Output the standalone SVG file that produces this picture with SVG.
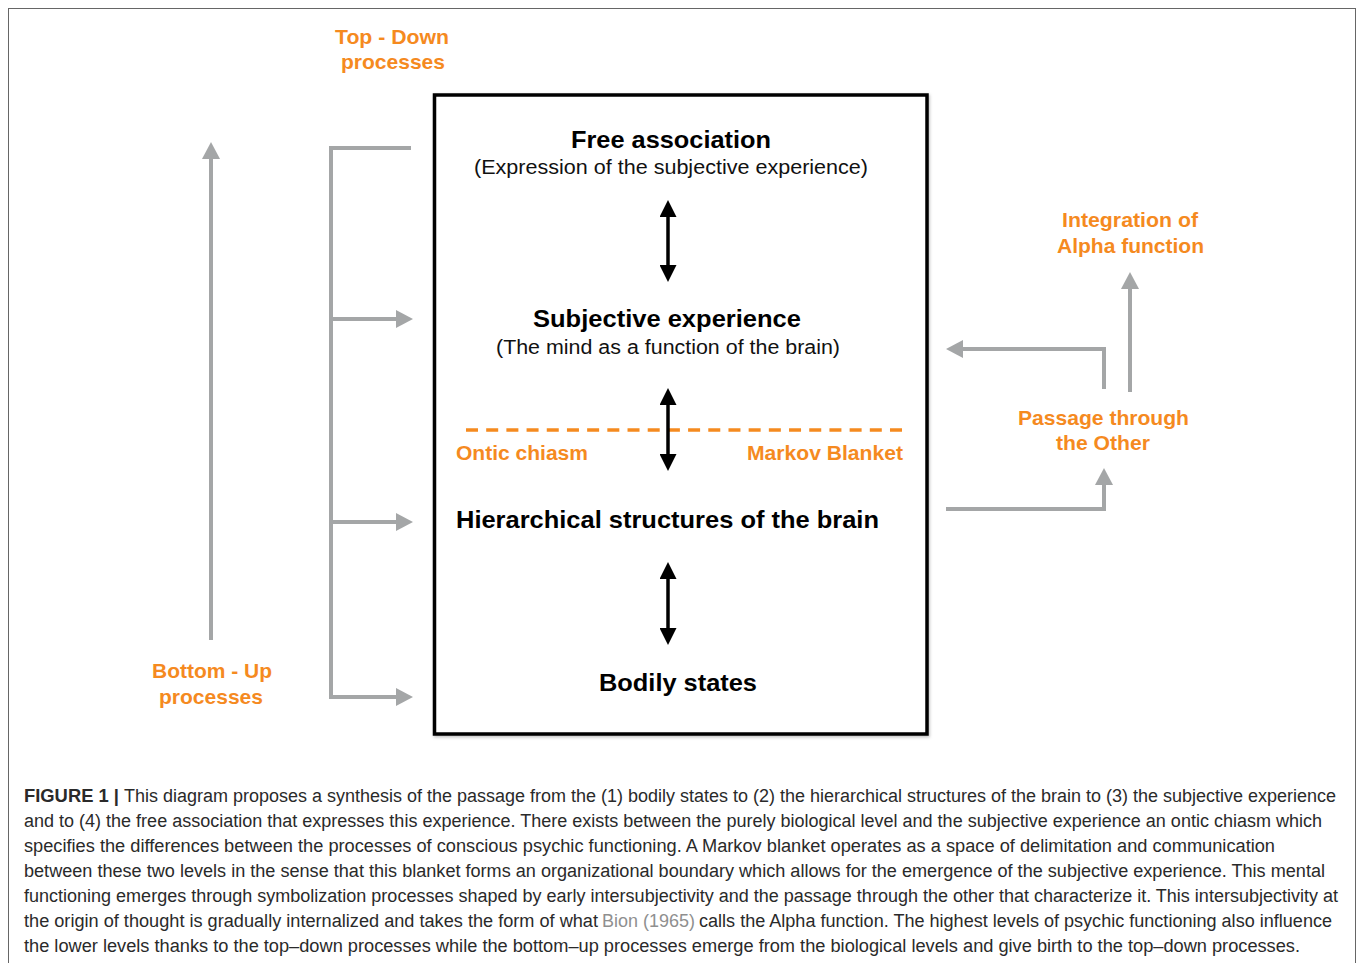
<svg xmlns="http://www.w3.org/2000/svg" width="1358" height="963" viewBox="0 0 1358 963">
<defs>
<marker id="hb" markerUnits="userSpaceOnUse" markerWidth="17" markerHeight="17" refX="0" refY="8.5" orient="auto-start-reverse" viewBox="0 0 17 17">
<path d="M0,0 L17,8.5 L0,17 z" fill="#000"/>
</marker>
<marker id="hg" markerUnits="userSpaceOnUse" markerWidth="17" markerHeight="18" refX="0" refY="9" orient="auto-start-reverse" viewBox="0 0 17 18">
<path d="M0,0 L17,9 L0,18 z" fill="#A4A6A7"/>
</marker>
<filter id="sh" x="-5%" y="-5%" width="110%" height="110%">
<feDropShadow dx="1" dy="1.5" stdDeviation="1.5" flood-color="#000" flood-opacity="0.25"/>
</filter>
<style>
.or{font-family:"Liberation Sans",Arial,sans-serif;font-weight:bold;font-size:21px;fill:#F58A1F;text-anchor:middle}
.orl{font-family:"Liberation Sans",Arial,sans-serif;font-weight:bold;font-size:20px;fill:#F58A1F}
.hd{font-family:"Liberation Sans",Arial,sans-serif;font-weight:bold;font-size:24px;fill:#000;text-anchor:middle}
.sb{font-family:"Liberation Sans",Arial,sans-serif;font-size:20px;fill:#111;text-anchor:middle}
.cap{font-family:"Liberation Sans",Arial,sans-serif;font-size:18px;fill:#2a2a2a}
.capb{font-family:"Liberation Sans",Arial,sans-serif;font-size:18px;font-weight:bold;fill:#2a2a2a}
.ref{fill:#8f8f8f}
.ga{fill:none;stroke:#A4A6A7;stroke-width:4}
.ba{fill:none;stroke:#000;stroke-width:3.5}
</style>
</defs>
<rect width="1358" height="963" fill="#fff"/>
<rect x="8.5" y="8.5" width="1347" height="980" fill="none" stroke="#666" stroke-width="1"/>

<g id="main-box">
<rect x="434.5" y="95" width="492.5" height="639" fill="#fff" stroke="#000" stroke-width="3.5" filter="url(#sh)"/>
</g>

<g id="markov-line">
<line x1="466" y1="430" x2="902" y2="430" stroke="#F58A1F" stroke-width="3.5" stroke-dasharray="12 8.19"/>
</g>

<g id="connectors">
<line class="ba" x1="668" y1="217" x2="668" y2="265" marker-start="url(#hb)" marker-end="url(#hb)"/>
<line class="ba" x1="668" y1="405" x2="668" y2="454" marker-start="url(#hb)" marker-end="url(#hb)"/>
<line class="ba" x1="668" y1="579" x2="668" y2="628" marker-start="url(#hb)" marker-end="url(#hb)"/>
<line class="ga" x1="211" y1="640" x2="211" y2="159" marker-end="url(#hg)"/>
<path class="ga" d="M411,148 H331 V697 H396" marker-end="url(#hg)"/>
<line class="ga" x1="331" y1="319" x2="396" y2="319" marker-end="url(#hg)"/>
<line class="ga" x1="331" y1="522" x2="396" y2="522" marker-end="url(#hg)"/>
<path class="ga" d="M1104,389 V349 H963" marker-end="url(#hg)"/>
<line class="ga" x1="1130" y1="392" x2="1130" y2="289" marker-end="url(#hg)"/>
<path class="ga" d="M946,509 H1104 V485" marker-end="url(#hg)"/>
</g>

<g id="top-down">
<text class="or" x="392" y="44" textLength="114" lengthAdjust="spacingAndGlyphs">Top - Down</text>
<text class="or" x="393" y="69" textLength="104" lengthAdjust="spacingAndGlyphs">processes</text>
</g>
<g id="bottom-up">
<text class="or" x="212" y="678" textLength="120" lengthAdjust="spacingAndGlyphs">Bottom - Up</text>
<text class="or" x="211" y="704" textLength="104" lengthAdjust="spacingAndGlyphs">processes</text>
</g>
<g id="free-association">
<text class="hd" x="671" y="148" textLength="200" lengthAdjust="spacingAndGlyphs">Free association</text>
<text class="sb" x="671" y="174" textLength="394" lengthAdjust="spacingAndGlyphs">(Expression of the subjective experience)</text>
</g>
<g id="subjective-experience">
<text class="hd" x="667" y="327" textLength="268" lengthAdjust="spacingAndGlyphs">Subjective experience</text>
<text class="sb" x="668" y="354" textLength="344" lengthAdjust="spacingAndGlyphs">(The mind as a function of the brain)</text>
</g>
<g id="ontic-chiasm">
<text class="orl" x="456" y="460" textLength="132" lengthAdjust="spacingAndGlyphs">Ontic chiasm</text>
</g>
<g id="markov-blanket">
<text class="orl" x="747" y="460" textLength="156" lengthAdjust="spacingAndGlyphs">Markov Blanket</text>
</g>
<g id="hierarchical-structures">
<text class="hd" x="667.5" y="528" textLength="423" lengthAdjust="spacingAndGlyphs">Hierarchical structures of the brain</text>
</g>
<g id="bodily-states">
<text class="hd" x="678" y="691" textLength="158" lengthAdjust="spacingAndGlyphs">Bodily states</text>
</g>
<g id="alpha-function">
<text class="or" x="1130" y="227" textLength="136" lengthAdjust="spacingAndGlyphs">Integration of</text>
<text class="or" x="1130.5" y="253" textLength="147" lengthAdjust="spacingAndGlyphs">Alpha function</text>
</g>
<g id="passage-other">
<text class="or" x="1103.5" y="425" textLength="171" lengthAdjust="spacingAndGlyphs">Passage through</text>
<text class="or" x="1103" y="450" textLength="94" lengthAdjust="spacingAndGlyphs">the Other</text>
</g>

<g id="caption">
<text class="capb" x="24" y="802" textLength="95" lengthAdjust="spacingAndGlyphs">FIGURE 1 |</text>
<text class="cap" x="124" y="802" textLength="1212" lengthAdjust="spacingAndGlyphs">This diagram proposes a synthesis of the passage from the (1) bodily states to (2) the hierarchical structures of the brain to (3) the subjective experience</text>
<text class="cap" x="24" y="827" textLength="1298" lengthAdjust="spacingAndGlyphs">and to (4) the free association that expresses this experience. There exists between the purely biological level and the subjective experience an ontic chiasm which</text>
<text class="cap" x="24" y="852" textLength="1251" lengthAdjust="spacingAndGlyphs">specifies the differences between the processes of conscious psychic functioning. A Markov blanket operates as a space of delimitation and communication</text>
<text class="cap" x="24" y="877" textLength="1301" lengthAdjust="spacingAndGlyphs">between these two levels in the sense that this blanket forms an organizational boundary which allows for the emergence of the subjective experience. This mental</text>
<text class="cap" x="24" y="902" textLength="1314" lengthAdjust="spacingAndGlyphs">functioning emerges through symbolization processes shaped by early intersubjectivity and the passage through the other that characterize it. This intersubjectivity at</text>
<text class="cap" x="24" y="927" textLength="574" lengthAdjust="spacingAndGlyphs">the origin of thought is gradually internalized and takes the form of what</text>
<text class="cap ref" x="602" y="927" textLength="93" lengthAdjust="spacingAndGlyphs">Bion (1965)</text>
<text class="cap" x="699" y="927" textLength="633" lengthAdjust="spacingAndGlyphs">calls the Alpha function. The highest levels of psychic functioning also influence</text>
<text class="cap" x="24" y="952" textLength="1276" lengthAdjust="spacingAndGlyphs">the lower levels thanks to the top–down processes while the bottom–up processes emerge from the biological levels and give birth to the top–down processes.</text>
</g>
</svg>
